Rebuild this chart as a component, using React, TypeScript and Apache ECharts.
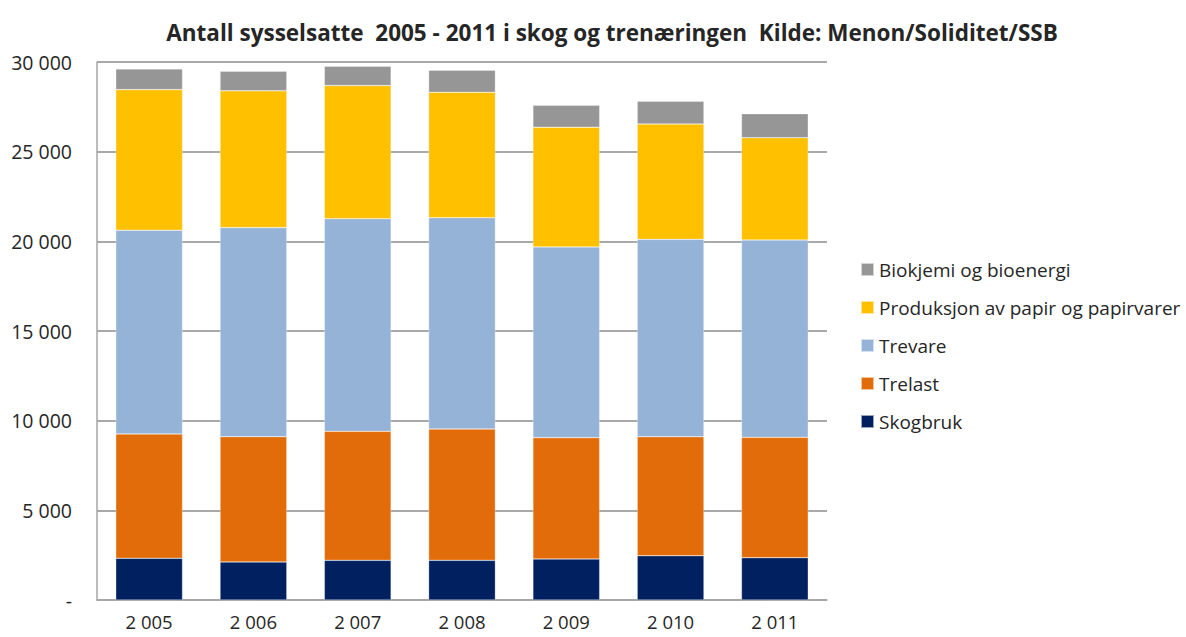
import React, { useEffect, useRef } from "react";
import * as echarts from "echarts";

const years = ["2 005", "2 006", "2 007", "2 008", "2 009", "2 010", "2 011"];
const skogbruk = [2325, 2120, 2210, 2210, 2290, 2470, 2360];
const trelast = [6935, 6990, 7195, 7325, 6765, 6635, 6710];
const trevare = [11360, 11655, 11860, 11785, 10635, 11005, 11005];
const papir = [7840, 7625, 7420, 6990, 6675, 6435, 5705];
const bio = [1155, 1100, 1080, 1230, 1225, 1265, 1340];
const yTicks = [0, 5000, 10000, 15000, 20000, 25000, 30000];

const FONT = "'Open Sans', 'Liberation Sans', sans-serif";

export default function App() {
  const ref = useRef<HTMLDivElement>(null);
  useEffect(() => {
    if (!ref.current) return;
    const chart = echarts.init(ref.current, undefined, { renderer: "svg" });
    const mk = (name: string, data: number[], color: string) => ({
      name,
      type: "bar",
      stack: "total",
      data,
      barWidth: "64%",
      itemStyle: { color, borderColor: "rgba(255,255,255,0.6)", borderWidth: 0.5 },
    });
    chart.setOption({
      animation: false,
      textStyle: { fontFamily: FONT },
      title: {
        text: "Antall sysselsatte  2005 - 2011 i skog og trenæringen  Kilde: Menon/Soliditet/SSB",
        left: 607,
        textAlign: "center",
        top: 16,
        textStyle: { fontFamily: FONT, fontSize: 22.5, fontWeight: "bold", color: "#262626" },
      },
      legend: {
        orient: "vertical",
        left: 855,
        top: 255,
        itemWidth: 13,
        itemHeight: 13,
        itemGap: 19,
        icon: "rect",
        data: ["Biokjemi og bioenergi", "Produksjon av papir og papirvarer", "Trevare", "Trelast", "Skogbruk"],
        textStyle: { fontFamily: FONT, fontSize: 19, color: "#262626" },
      },
      grid: { left: 97, right: 359, top: 62, bottom: 37 },
      xAxis: {
        type: "category",
        data: years,
        axisLine: { lineStyle: { color: "#A6A6A6", width: 1.5 } },
        axisTick: { show: false },
        axisLabel: { fontSize: 18.5, lineHeight: 19, color: "#262626", margin: 12, fontFamily: FONT },
      },
      yAxis: {
        type: "value",
        min: 0,
        max: 30000,
        interval: 5000,
        axisLine: { show: true, lineStyle: { color: "#A6A6A6", width: 1.5 } },
        axisTick: { show: true, inside: true, length: 4, lineStyle: { color: "#A6A6A6" } },
        splitLine: { lineStyle: { color: "#8C8C8C", width: 1.5 } },
        axisLabel: {
          fontSize: 19.5,
          color: "#262626",
          margin: 25,
          fontFamily: FONT,
          formatter: (v: number) =>
            v === 0 ? "-" : yTicks.includes(v) ? String(v).replace(/\B(?=(\d{3})+(?!\d))/g, " ") : "",
        },
      },
      series: [
        mk("Skogbruk", skogbruk, "#002060"),
        mk("Trelast", trelast, "#E36C0A"),
        mk("Trevare", trevare, "#95B3D7"),
        mk("Produksjon av papir og papirvarer", papir, "#FFC000"),
        mk("Biokjemi og bioenergi", bio, "#969696"),
      ],
    });
    return () => chart.dispose();
  }, []);
  return (
    <div
      ref={ref}
      style={{ width: 1186, height: 637, position: "absolute", left: 0, top: 0, background: "#fff", overflow: "hidden" }}
    />
  );
}
